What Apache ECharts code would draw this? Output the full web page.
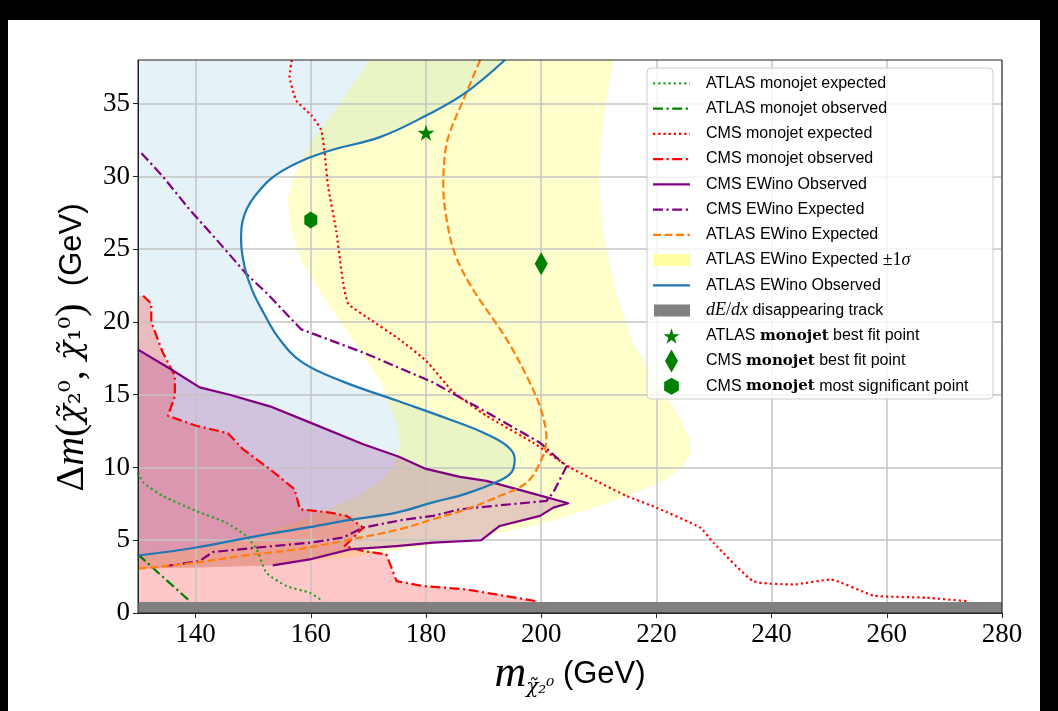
<!DOCTYPE html>
<html>
<head>
<meta charset="utf-8">
<script src="https://cdn.jsdelivr.net/npm/echarts@6/dist/echarts.min.js"></script>
<style>
html,body{margin:0;padding:0;background:#000;width:1058px;height:711px;overflow:hidden}
#paper{position:absolute;left:8px;top:20px;width:1032px;height:691px;background:#fff}
#chart{position:absolute;left:0;top:0;width:1058px;height:711px}
</style>
</head>
<body>
<div id="paper"></div>
<div id="chart"></div>
<script>
// ---------------- data ----------------
const xTicks = [140, 160, 180, 200, 220, 240, 260, 280];
const yTicks = [0, 5, 10, 15, 20, 25, 30, 35];

const atlasMonojetExpected = [[130,9.65],[130.9,8.97],[134.3,8.04],[140.1,7.01],[145.3,6.21],[148.8,5.29],[150.6,4.37],[152.3,2.77],[155.8,1.85],[159.8,1.39],[162.1,0.81]];
const atlasMonojetObserved = [[130,4.03],[133.2,2.88],[136.1,1.85],[139,0.81]];
const cmsMonojetExpected = [[156.7,38],[156.3,36.9],[157.5,35.2],[160.1,34.2],[161.8,33.2],[162.4,31.6],[163,29.3],[164.4,26.3],[165.6,22.7],[166.5,21.25],[170.2,20.2],[175.4,18.8],[180.1,17.3],[184.7,15.2],[190.5,13.55],[198.6,11.7],[205,10.0],[214.8,8.05],[220,7.24],[227.6,5.87],[229.9,4.83],[236.8,2.19],[243.8,1.96],[250.2,2.3],[257.7,1.2],[266.9,1.05],[273.9,0.81]];
const cmsMonojetObserved = [[130.9,21.8],[132.3,21.25],[132.3,20.0],[134.3,17.9],[136.4,16.3],[136.4,14.9],[135.2,13.55],[140.1,12.87],[145.6,12.36],[148.2,11.26],[152.9,9.88],[157.2,8.5],[158.1,7.13],[163.3,6.9],[166.2,6.67],[169.1,5.87],[165.9,4.6],[169.1,4.26],[173.1,4.03],[174.9,2.19],[179.5,1.85],[187,1.62],[199.2,0.81]];
const cmsMonojetObservedRegionClose = [[199.2,0],[130,0],[130,21.8]];
const cmsEwinoObserved = [[130,18.1],[135.5,16.8],[140.7,15.5],[145.9,15.0],[152.9,14.2],[159.8,13.1],[169.1,11.6],[175.2,10.75],[180,9.9],[185.9,9.35],[190.5,9.08],[197.5,8.32],[204.7,7.54],[202.1,7.24],[199.8,6.67],[192.8,5.98],[189.6,5.0],[181.2,4.83],[174.9,4.6],[166.8,4.37],[159.8,3.68],[153.4,3.27]];
const cmsEwinoObservedRegionClose = [[141,3.12],[130,3.05]];
const cmsEwinoExpected = [[130.6,31.6],[134.3,30.0],[139,27.7],[144.2,25.4],[148.8,23.3],[152.3,22.0],[158.3,19.5],[169.4,17.85],[181.2,15.85],[190.5,13.8],[199.8,11.7],[204.4,10.07],[202.1,8.28],[200.9,7.7],[192.8,7.4],[185.9,7.13],[181.2,6.67],[176,6.4],[169.1,5.87],[165.6,5.18],[159.8,4.83],[150.6,4.49],[143,4.19],[140.7,3.57],[134.9,3.22]];
const atlasEwinoExpected = [[189.4,38],[186.2,35.0],[184.1,33.0],[183.3,31.6],[183,29.3],[183.6,27.0],[185,24.7],[187.9,22.4],[194,18.8],[198,15.85],[200.1,13.8],[200.9,11.95],[200.1,10.6],[197.5,8.97],[192.8,8.04],[187,7.13],[181.2,6.44],[175.4,5.75],[165.6,4.95],[157.5,4.37],[147.7,3.91],[140.1,3.46],[130,3.04]];
const atlasEwinoBand = [[212.5,38],[210.8,34],[210,30],[210.8,26],[213,22],[216,18.5],[220,16],[223.5,13.8],[225.8,12],[226,11],[224.5,10],[221.8,9.2],[216,8.2],[210.2,7.36],[204,6.6],[198.6,5.98],[187,5.06],[175.4,4.37],[165,3.75],[150,3.25],[130,3.0],[130,3.9],[140,4.4],[150,5.3],[160,6.6],[168,8.0],[172,9.0],[174.5,10.1],[175.4,11.5],[175,13],[172,16],[166,19.5],[161,22.4],[158.5,24],[156.5,26.5],[156,28.5],[157,30],[160,32.3],[165,35],[170.2,38]];
const atlasEwinoObserved = [[193.7,38],[186.7,35.7],[180.1,34.2],[172,32.7],[162.7,31.7],[155.1,30.4],[151,29],[148.5,27.4],[147.9,25.6],[148.5,23.8],[149.8,22.2],[151.7,20.7],[154.6,18.8],[158.6,17.2],[165.6,15.9],[174.9,14.6],[184.1,13.3],[189.9,12.4],[194,11.5],[195.4,10.6],[194.9,9.7],[192.8,9.1],[187,8.2],[181.2,7.6],[174.9,6.9],[166.8,6.4],[159.8,5.9],[149.4,5.2],[140.1,4.5],[130,3.95]];
const atlasEwinoObservedRegionClose = [[130,38]];
const dedxBand = [[130,0],[280,0],[280,0.75],[130,0.75]];
const atlasMonojetBestFit = [[180,33]];
const cmsMonojetBestFit = [[200,24]];
const cmsMonojetMostSignificant = [[160,27]];

const legendLabels = [
  '{a|ATLAS monojet expected}',
  '{a|ATLAS monojet observed}',
  '{a|CMS monojet expected}',
  '{a|CMS monojet observed}',
  '{a|CMS EWino Observed}',
  '{a|CMS EWino Expected}',
  '{a|ATLAS EWino Expected}',
  '{a|ATLAS EWino Expected }{r|±1}{i|σ}',
  '{a|ATLAS EWino Observed}',
  '{i|dE}{r|/}{i|dx}{a| disappearing track}',
  '{a|ATLAS }{b|monojet}{a| best fit point}',
  '{a|CMS }{b|monojet}{a| best fit point}',
  '{a|CMS }{b|monojet}{a| most significant point}'
];

// ---------------- styles ----------------
const C = {
  greenDot: '#2ca02c', green: '#008000', red: '#ff0000', purple: '#800080',
  orange: '#ff7f0e', blue: '#1f77b4', gray: '#808080'
};
const DOT = [2.2, 3], DASHDOT = [10, 3.5, 2.2, 3.5], DASH = [8, 3.5];
const LW = 2.2;

function starPoints(cx, cy, r) {
  const p = [];
  for (let i = 0; i < 10; i++) {
    const rr = i % 2 ? r * 0.382 : r;
    const a = -Math.PI / 2 + i * Math.PI / 5;
    p.push([cx + rr * Math.cos(a), cy + rr * Math.sin(a)]);
  }
  return p;
}
function hexPoints(cx, cy, r) {
  const p = [];
  for (let i = 0; i < 6; i++) {
    const a = -Math.PI / 2 + i * Math.PI / 3;
    p.push([cx + r * Math.cos(a), cy + r * Math.sin(a)]);
  }
  return p;
}
function toPath(pts) {
  return 'path://' + pts.map((q, i) => (i ? 'L' : 'M') + q[0].toFixed(3) + ' ' + q[1].toFixed(3)).join('') + 'Z';
}
const STAR = toPath(starPoints(0, 0, 1));
const HEX = toPath(hexPoints(0, 0, 1));

function fillSeries(name, pts, color, z) {
  return {
    type: 'custom', name, z, silent: true, clip: true,
    coordinateSystem: 'cartesian2d',
    data: [pts[0]],
    renderItem: (params, api) => ({
      type: 'polygon',
      shape: { points: pts.map(p => api.coord(p)) },
      style: { fill: color }
    })
  };
}
function lineSeries(name, pts, color, dash, smooth, z) {
  return {
    type: 'line', name, data: pts, symbol: 'none', showSymbol: false,
    smooth: smooth, z: z || 3, silent: true, clip: true,
    lineStyle: { color, width: LW, type: dash, cap: 'butt', join: 'round' }
  };
}
function markerSeries(name, pts, symbol, size) {
  return {
    type: 'scatter', name, data: pts, symbol, symbolSize: size, symbolKeepAspect: true,
    z: 5, silent: true, itemStyle: { color: C.green, opacity: 1 }
  };
}

// ---------------- legend (graphic) ----------------
const LX0 = 653, LX1 = 690, LTX = 706, LY0 = 83.3, LDY = 25.25;
const legendKinds = [
  { t: 'line', c: C.greenDot, d: DOT },
  { t: 'line', c: C.green, d: DASHDOT },
  { t: 'line', c: C.red, d: DOT },
  { t: 'line', c: C.red, d: DASHDOT },
  { t: 'line', c: C.purple, d: null },
  { t: 'line', c: C.purple, d: DASHDOT },
  { t: 'line', c: C.orange, d: DASH },
  { t: 'rect', c: '#ffffa0' },
  { t: 'line', c: C.blue, d: null },
  { t: 'rect', c: C.gray },
  { t: 'star' }, { t: 'diamond' }, { t: 'hex' }
];
const richLegend = {
  a: { fontFamily: 'Liberation Sans', fontSize: 16, fill: '#000' },
  b: { fontFamily: 'DejaVu Serif', fontWeight: 'bold', fontSize: 15, fill: '#000' },
  i: { fontFamily: 'Liberation Serif', fontStyle: 'italic', fontSize: 18, fill: '#000' },
  r: { fontFamily: 'Liberation Serif', fontSize: 18, fill: '#000' }
};
const legendEls = [{
  type: 'rect', z: 100,
  shape: { x: 647, y: 68, width: 346, height: 331, r: 4 },
  style: { fill: 'rgba(255,255,255,0.8)', stroke: '#cccccc', lineWidth: 1 }
}];
legendKinds.forEach((k, i) => {
  const y = LY0 + LDY * i;
  const cx = (LX0 + LX1) / 2;
  if (k.t === 'line') {
    legendEls.push({ type: 'line', z: 101, shape: { x1: LX0, y1: y, x2: LX1, y2: y },
      style: { stroke: k.c, lineWidth: LW, lineDash: k.d || null, lineCap: 'butt' } });
  } else if (k.t === 'rect') {
    legendEls.push({ type: 'rect', z: 101, shape: { x: LX0 + 1, y: y - 6, width: LX1 - LX0 - 1, height: 12 },
      style: { fill: k.c } });
  } else if (k.t === 'star') {
    legendEls.push({ type: 'polygon', z: 101, shape: { points: starPoints(cx, y + 1, 8.5) }, style: { fill: C.green } });
  } else if (k.t === 'diamond') {
    legendEls.push({ type: 'polygon', z: 101, shape: { points: [[cx, y - 11.5], [cx + 6.5, y], [cx, y + 11.5], [cx - 6.5, y]] }, style: { fill: C.green } });
  } else if (k.t === 'hex') {
    legendEls.push({ type: 'polygon', z: 101, shape: { points: hexPoints(cx, y, 8.5) }, style: { fill: C.green } });
  }
  legendEls.push({ type: 'text', z: 101, x: LTX, y: y,
    style: { text: legendLabels[i], rich: richLegend, verticalAlign: 'middle', align: 'left' } });
});

// ---------------- chart ----------------
const chart = echarts.init(document.getElementById('chart'), null, { renderer: 'canvas' });
const AXIS_COLOR = '#222';
const option = {
  animation: false,
  backgroundColor: 'transparent',
  grid: { left: 138, top: 60, width: 864, height: 553, show: true, borderColor: AXIS_COLOR, borderWidth: 1, backgroundColor: 'transparent', z: 6 },
  xAxis: {
    type: 'value', min: 130, max: 280, interval: 10, z: 1,
    axisLine: { show: true, onZero: false, lineStyle: { color: AXIS_COLOR, width: 1 } },
    axisTick: { show: true, inside: false, length: 5, customValues: xTicks, lineStyle: { color: AXIS_COLOR, width: 1 } },
    axisLabel: { customValues: xTicks, formatter: v => (xTicks.indexOf(v) >= 0 ? String(v) : ''), fontFamily: 'Liberation Serif', fontSize: 27, color: '#000', margin: 8 },
    splitLine: { show: true, lineStyle: { color: '#c4c4c4', width: 1.5 } },
    name: '{m|m}{s|χ̃₂⁰}{g| (GeV)}',
    nameLocation: 'middle', nameGap: 38,
    nameTextStyle: {
      rich: {
        m: { fontFamily: 'Liberation Serif', fontStyle: 'italic', fontSize: 44, lineHeight: 46, color: '#000' },
        s: { fontFamily: 'DejaVu Serif', fontStyle: 'italic', fontSize: 20, lineHeight: 20, verticalAlign: 'bottom', color: '#000' },
        g: { fontFamily: 'Liberation Sans', fontSize: 31, lineHeight: 46, color: '#000' }
      }
    }
  },
  yAxis: {
    type: 'value', min: 0, max: 38, interval: 5, z: 1,
    axisLine: { show: true, onZero: false, lineStyle: { color: AXIS_COLOR, width: 1 } },
    axisTick: { show: true, inside: false, length: 5, customValues: yTicks, lineStyle: { color: AXIS_COLOR, width: 1 } },
    axisLabel: { customValues: yTicks, formatter: v => (yTicks.indexOf(v) >= 0 ? String(v) : ''), fontFamily: 'Liberation Serif', fontSize: 27, color: '#000', margin: 8 },
    splitLine: { show: true, lineStyle: { color: '#c4c4c4', width: 1.5 } },
    name: '{d|Δ}{m|m}{p|(}{c|χ̃}{n|₂⁰}{p|, }{c|χ̃}{n|₁⁰}{p|)}{g|  (GeV)}',
    nameLocation: 'middle', nameGap: 36, nameRotate: 90,
    nameTextStyle: {
      padding: [0, 22, 0, 0],
      rich: {
        d: { fontFamily: 'Liberation Serif', fontSize: 40, lineHeight: 46, color: '#000' },
        m: { fontFamily: 'Liberation Serif', fontStyle: 'italic', fontSize: 40, lineHeight: 46, color: '#000' },
        p: { fontFamily: 'Liberation Serif', fontSize: 40, lineHeight: 46, color: '#000' },
        c: { fontFamily: 'DejaVu Serif', fontStyle: 'italic', fontSize: 32, lineHeight: 46, color: '#000' },
        n: { fontFamily: 'DejaVu Serif', fontSize: 30, lineHeight: 46, color: '#000' },
        g: { fontFamily: 'Liberation Sans', fontSize: 31, lineHeight: 46, color: '#000' }
      }
    }
  },
  series: [
    fillSeries('ATLAS EWino Observed region', atlasEwinoObserved.concat(atlasEwinoObservedRegionClose), 'rgba(173,216,230,0.32)', 0),
    fillSeries('ATLAS EWino Expected ±1σ', atlasEwinoBand, 'rgba(255,255,0,0.2)', 0),
    fillSeries('CMS EWino Observed region', cmsEwinoObserved.concat(cmsEwinoObservedRegionClose), 'rgba(128,0,128,0.2)', 0),
    fillSeries('CMS monojet observed region', cmsMonojetObserved.concat(cmsMonojetObservedRegionClose), 'rgba(255,0,0,0.22)', 0),
    lineSeries('ATLAS monojet expected', atlasMonojetExpected, C.greenDot, DOT, 0.2),
    lineSeries('ATLAS monojet observed', atlasMonojetObserved, C.green, DASHDOT, 0),
    lineSeries('CMS monojet expected', cmsMonojetExpected, C.red, DOT, 0.15),
    lineSeries('CMS monojet observed', cmsMonojetObserved, C.red, DASHDOT, 0),
    lineSeries('CMS EWino Observed', cmsEwinoObserved, C.purple, 'solid', 0),
    lineSeries('CMS EWino Expected', cmsEwinoExpected, C.purple, DASHDOT, 0),
    lineSeries('ATLAS EWino Expected', atlasEwinoExpected, C.orange, DASH, 0.35),
    lineSeries('ATLAS EWino Observed', atlasEwinoObserved, C.blue, 'solid', 0.4),
    fillSeries('dE/dx disappearing track', dedxBand, C.gray, 4),
    markerSeries('ATLAS monojet best fit point', atlasMonojetBestFit, STAR, 17),
    markerSeries('CMS monojet best fit point', cmsMonojetBestFit, 'diamond', [13, 23]),
    markerSeries('CMS monojet most significant point', cmsMonojetMostSignificant, HEX, [15, 17])
  ],
  graphic: { elements: legendEls }
};
chart.setOption(option);
</script>
</body>
</html>
